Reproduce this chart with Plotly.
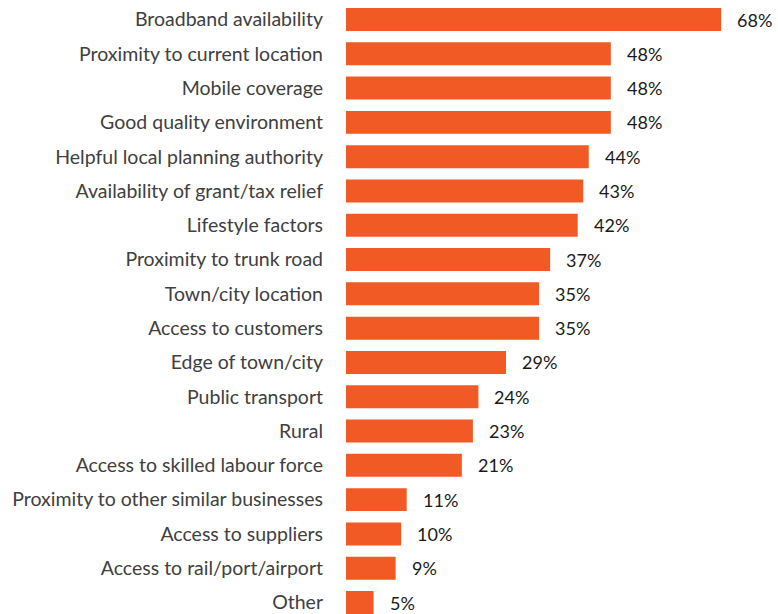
import plotly.graph_objects as go

factors = [
    "Broadband availability",
    "Proximity to current location",
    "Mobile coverage",
    "Good quality environment",
    "Helpful local planning authority",
    "Availability of grant/tax relief",
    "Lifestyle factors",
    "Proximity to trunk road",
    "Town/city location",
    "Access to customers",
    "Edge of town/city",
    "Public transport",
    "Rural",
    "Access to skilled labour force",
    "Proximity to other similar businesses",
    "Access to suppliers",
    "Access to rail/port/airport",
    "Other",
]
shares = [68, 48, 48, 48, 44, 43, 42, 37, 35, 35, 29, 24, 23, 21, 11, 10, 9, 5]

BAR_COLOR = "#F15A24"
FONT = "Lato"

fig = go.Figure(
    go.Bar(
        x=shares,
        y=factors,
        orientation="h",
        marker=dict(color=BAR_COLOR, line=dict(width=0)),
        hoverinfo="skip",
    )
)

# value labels to the right of each bar
for f, v in zip(factors, shares):
    fig.add_annotation(
        x=v, y=f, text=f"{v}%", showarrow=False,
        xanchor="left", yanchor="middle", xshift=14,
        font=dict(family=FONT, size=18, color="#1a1a1a"),
    )

fig.update_layout(
    width=778, height=614,
    margin=dict(l=346, r=0, t=0, b=0),
    paper_bgcolor="white", plot_bgcolor="white",
    bargap=0.33,
    showlegend=False,
    font=dict(family=FONT, size=19, color="#404040"),
)
fig.update_xaxes(range=[0, 78.3], visible=False, showgrid=False, zeroline=False)
fig.update_yaxes(
    type="category",
    range=[17.335, -0.5686],
    showgrid=False, zeroline=False, showline=False,
    ticks="", ticklabelstandoff=22,
    tickfont=dict(family=FONT, size=19.5, color="#404040"),
)

fig.write_html("out.html")
